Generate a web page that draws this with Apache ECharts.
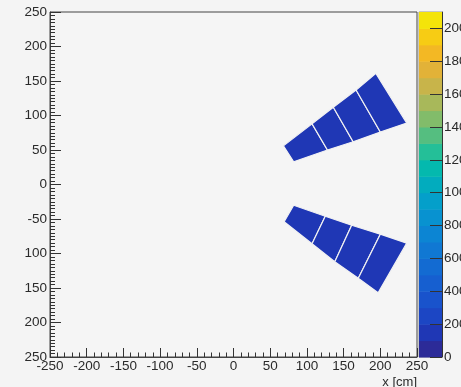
<!DOCTYPE html>
<html>
<head>
<meta charset="utf-8">
<script src="https://cdn.jsdelivr.net/npm/echarts@6/dist/echarts.min.js"></script>
<style>
  html, body { margin: 0; padding: 0; background: #f4f4f4; }
  #chart { width: 461px; height: 387px; }
</style>
</head>
<body>
<div id="chart"></div>
<script>
// module corners (cm), from inner edge to outer edge
var upperTopEdge = [[68, 56], [107, 88], [136, 112], [167, 137], [194, 161]];
var upperBottomEdge = [[82, 33], [128, 50], [163, 62], [200, 76], [236, 89]];
var lowerTopEdge = [[82, -30], [125, -46], [161, -59], [200, -72], [236, -85]];
var lowerBottomEdge = [[69, -54], [107, -86], [138, -112], [170, -136], [197, -157]];
// entries per module (all in the lowest blue bands)
var upperCounts = [150, 140, 145, 150];
var lowerCounts = [150, 145, 140, 150];

var xRange = [-250, 250];
var yRange = [-250, 250];
var axisStep = 50;

// palette bands of the colour bar
var zLevels = [0, 100, 200, 300, 400, 500, 600, 700, 800, 900, 1000,
  1100, 1200, 1300, 1400, 1500, 1600, 1700, 1800, 1900, 2000, 2100];
var zColors = ['#2c2b98', '#1f37b5', '#1c46c4', '#1953cc', '#165fd0', '#136bd2',
  '#1078d3', '#0c85d3', '#0892d0', '#049fca', '#02acbe', '#04b9ae', '#24bf98',
  '#55be80', '#82bc6a', '#a8b85a', '#c8b44a', '#e2b238', '#f3b824', '#f7cc14', '#f4e40a'];
var zStep = 200;

var modules = [];
function addModules(top, bottom, counts) {
  for (var i = 0; i < counts.length; i++) {
    modules.push({ corners: [top[i], top[i + 1], bottom[i + 1], bottom[i]], value: counts[i] });
  }
}
addModules(upperTopEdge, upperBottomEdge, upperCounts);
addModules(lowerTopEdge, lowerBottomEdge, lowerCounts);

var moduleData = modules.map(function (m, i) { return [m.value, i]; });
var barData = zColors.map(function (c, i) {
  return [(zLevels[i] + zLevels[i + 1]) / 2, zLevels[i], zLevels[i + 1]];
});

var font = 'Liberation Sans, Arial, Helvetica, sans-serif';
var myChart = echarts.init(document.getElementById('chart'));

var option = {
  backgroundColor: '#f4f4f4',
  animation: false,
  grid: [
    { left: 50, top: 12, width: 367, bottom: 30, show: true, borderColor: '#444', borderWidth: 1,
      backgroundColor: '#f5f5f5', containLabel: false, outerBoundsMode: 'none' },
    { left: 419, top: 12, width: 23, bottom: 30, show: true, borderColor: '#999', borderWidth: 1,
      containLabel: false, outerBoundsMode: 'none' }
  ],
  visualMap: {
    type: 'piecewise',
    show: false,
    dimension: 0,
    seriesIndex: [0, 1],
    pieces: zColors.map(function (c, i) {
      return { gte: zLevels[i], lt: zLevels[i + 1], color: c };
    })
  },
  xAxis: [
    {
      gridIndex: 0, type: 'value', min: xRange[0], max: xRange[1], interval: axisStep,
      axisLine: { show: true, onZero: false, lineStyle: { color: '#444' } },
      axisTick: { show: true, inside: true, length: 9, lineStyle: { color: '#333' } },
      minorTick: { show: true, splitNumber: 5, length: 4.5, lineStyle: { color: '#333' } },
      splitLine: { show: false },
      axisLabel: { margin: 2, fontSize: 13.5, color: '#2a2a2a', fontFamily: font },
      name: 'x [cm]', nameLocation: 'end', nameGap: 0,
      nameTextStyle: { align: 'right', verticalAlign: 'top', padding: [19, 0, 0, 0],
        fontSize: 13, color: '#2a2a2a', fontFamily: font }
    },
    { gridIndex: 1, type: 'value', min: 0, max: 1, show: false }
  ],
  yAxis: [
    {
      gridIndex: 0, type: 'value', min: yRange[0], max: yRange[1], interval: axisStep,
      axisLine: { show: true, onZero: false, lineStyle: { color: '#444' } },
      axisTick: { show: true, inside: true, length: 11, lineStyle: { color: '#333' } },
      minorTick: { show: true, splitNumber: 10, length: 5, lineStyle: { color: '#333' } },
      splitLine: { show: false },
      axisLabel: {
        margin: 3, fontSize: 13.5, color: '#2a2a2a', fontFamily: font,
        // the minus of the lower labels is cut off in the picture
        formatter: function (v) { return v <= -100 ? String(-v) : String(v); }
      }
    },
    {
      gridIndex: 1, type: 'value', min: zLevels[0], max: zLevels[zLevels.length - 1],
      interval: zStep, position: 'right', z: 10,
      axisLine: { show: true, onZero: false, lineStyle: { color: '#333' } },
      axisTick: { show: true, inside: true, length: 12, lineStyle: { color: '#333' } },
      splitLine: { show: false },
      axisLabel: { margin: 2, fontSize: 13.5, color: '#2a2a2a', fontFamily: font, showMaxLabel: false,
        formatter: function (v) { return String(v); } }
    }
  ],
  series: [
    {
      type: 'custom',
      xAxisIndex: 0, yAxisIndex: 0,
      clip: true,
      data: moduleData,
      renderItem: function (params, api) {
        var m = modules[api.value(1)];
        var pts = m.corners.map(function (c) { return api.coord(c); });
        return {
          type: 'polygon',
          shape: { points: pts },
          style: { fill: api.visual('color'), stroke: '#f2f2f2', lineWidth: 1.2 }
        };
      }
    },
    {
      type: 'custom',
      xAxisIndex: 1, yAxisIndex: 1,
      data: barData,
      renderItem: function (params, api) {
        var p0 = api.coord([0, api.value(1)]);
        var p1 = api.coord([1, api.value(2)]);
        return {
          type: 'rect',
          shape: { x: p0[0], y: p1[1], width: p1[0] - p0[0], height: p0[1] - p1[1] + 0.5 },
          style: { fill: api.visual('color') }
        };
      }
    }
  ]
};
myChart.setOption(option);
window.addEventListener('resize', function () { myChart.resize(); });
</script>
</body>
</html>
